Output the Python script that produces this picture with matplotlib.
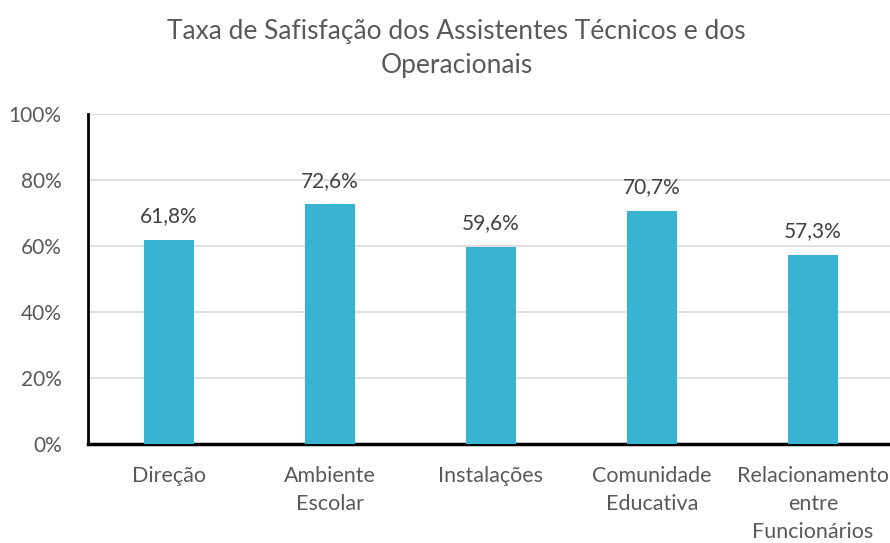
import matplotlib.pyplot as plt
import numpy as np

categories = ['Direção', 'Ambiente\nEscolar', 'Instalações', 'Comunidade\nEducativa',
              'Relacionamento\nentre\nFuncionários']
values = [61.8, 72.6, 59.6, 70.7, 57.3]
yticks = [0, 20, 40, 60, 80, 100]

plt.rcParams['font.family'] = ['Lato', 'DejaVu Sans']

fig = plt.figure(figsize=(8.9, 5.43), dpi=100)
ax = fig.add_axes([0.099, 0.182, 0.905, 0.608])

x = np.arange(len(categories))
ax.bar(x, values, width=0.31, color='#38B4D2', zorder=3)
for xi, v in zip(x, values):
    ax.text(xi, v + 4.2, f'{v:.1f}%'.replace('.', ','), ha='center', va='bottom',
            fontsize=15, color='#404040')

ax.set_xlim(-0.5, len(categories) - 0.5)
ax.set_ylim(0, 100)
ax.set_yticks(yticks)
ax.set_yticklabels([f'{t}%' for t in yticks])
ax.set_xticks(x)
ax.set_xticklabels(categories, linespacing=1.5)
ax.tick_params(axis='x', length=0, labelsize=15.5, colors='#595959', pad=16)
ax.tick_params(axis='y', length=0, labelsize=15, colors='#595959', pad=19)
ax.grid(axis='y', color='#d9d9d9', linewidth=1.2, zorder=0)
for s in ['top', 'right']:
    ax.spines[s].set_visible(False)
ax.spines['left'].set_linewidth(2)
ax.spines['bottom'].set_linewidth(2.5)
ax.spines['left'].set_color('black')
ax.spines['bottom'].set_color('black')

fig.text(0.513, 0.965, 'Taxa de Safisfação dos Assistentes Técnicos e dos\nOperacionais',
         ha='center', va='top', fontsize=19, color='#595959', linespacing=1.45)

fig.savefig('out.png', dpi=100)
